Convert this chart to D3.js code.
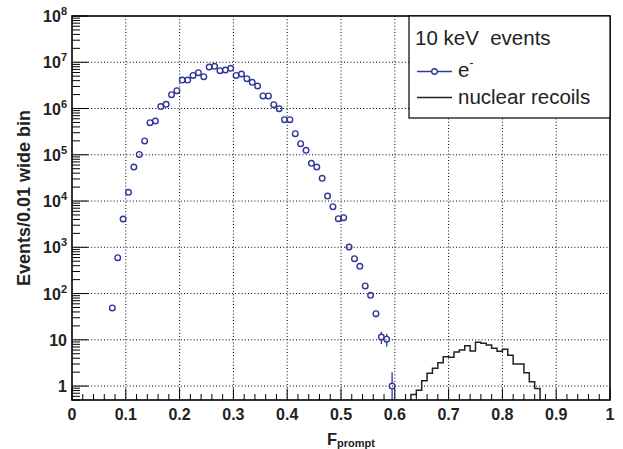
<!DOCTYPE html>
<html>
<head>
<meta charset="utf-8">
<script src="https://cdn.jsdelivr.net/npm/d3@7"></script>
<style>
  body { margin: 0; background: #fff; }
  svg text { font-family: "Liberation Sans", Arial, Helvetica, sans-serif; }
</style>
</head>
<body>
<div id="chart"></div>
<script>
// e- events: bin centres and counts per 0.01 bin
const eFprompt = [0.075, 0.085, 0.095, 0.105, 0.115, 0.125, 0.135, 0.145, 0.155, 0.165,
    0.175, 0.185, 0.195, 0.205, 0.215, 0.225, 0.235, 0.245, 0.255, 0.265,
    0.275, 0.285, 0.295, 0.305, 0.315, 0.325, 0.335, 0.345, 0.355, 0.365,
    0.375, 0.385, 0.395, 0.405, 0.415, 0.425, 0.435, 0.445, 0.455, 0.465,
    0.475, 0.485, 0.495, 0.505, 0.515, 0.525, 0.535, 0.545, 0.555, 0.565,
    0.575, 0.585, 0.595];
const eCounts = [49, 596, 4090, 15450, 54400, 1.02e5, 1.99e5, 4.94e5, 5.37e5, 1.1e6,
    1.23e6, 1.99e6, 2.43e6, 4.13e6, 4.13e6, 5.2e6, 5.96e6, 4.88e6, 7.9e6, 8.17e6,
    6.58e6, 6.8e6, 7.4e6, 5.2e6, 5.57e6, 4.41e6, 3.68e6, 3.07e6, 1.87e6, 1.87e6,
    1.21e6, 9.93e5, 5.74e5, 5.74e5, 2.86e5, 1.74e5, 1.25e5, 6.54e4, 5.44e4, 3.1e4,
    1.28e4, 7550, 4150, 4365, 1014, 567, 388, 146, 91.6, 36.7,
    11.5, 10.3, 1];

// nuclear recoils: bin low edges and contents
const nrBinLow = [0.63, 0.64, 0.65, 0.66, 0.67, 0.68, 0.69, 0.70, 0.71, 0.72,
    0.73, 0.74, 0.75, 0.76, 0.77, 0.78, 0.79, 0.80, 0.81, 0.82,
    0.83, 0.84, 0.85, 0.86];
const nrCounts = [0.66, 0.81, 1.31, 1.89, 2.42, 3.2, 4.3, 4.2, 5.45, 6.0,
    7.46, 5.73, 8.83, 8.4, 7.72, 6.55, 5.64, 6.23, 4.62, 3.0,
    3.0, 1.95, 1.24, 0.89];
const binWidth = 0.01;

const xTicks = [0, 0.1, 0.2, 0.3, 0.4, 0.5, 0.6, 0.7, 0.8, 0.9, 1];
const xTickLabels = ["0", "0.1", "0.2", "0.3", "0.4", "0.5", "0.6", "0.7", "0.8", "0.9", "1"];
const yTicks = [1, 10, 1e2, 1e3, 1e4, 1e5, 1e6, 1e7, 1e8];
const yTickLabels = [["1", ""], ["10", ""], ["10", "2"], ["10", "3"], ["10", "4"],
    ["10", "5"], ["10", "6"], ["10", "7"], ["10", "8"]];

const W = 623, H = 449;
const margin = {left: 72, top: 16, right: 13, bottom: 49};
const blue = "#2f3799";

const x = d3.scaleLinear().domain([0, 1]).range([margin.left, W - margin.right]);
const y = d3.scaleLog().domain([0.5, 1e8]).range([H - margin.bottom, margin.top]);
const [x0, x1] = x.range();
const [yb, yt] = y.range();

const svg = d3.select("#chart").append("svg")
    .attr("width", W).attr("height", H);

svg.append("clipPath").attr("id", "plotclip")
    .append("rect")
    .attr("x", x0).attr("y", yt).attr("width", x1 - x0).attr("height", yb - yt);

// grid
const grid = svg.append("g").attr("stroke", "#000").attr("stroke-width", 1)
    .attr("stroke-dasharray", "1,2.2");
grid.selectAll("line.vx")
    .data(xTicks.slice(1, -1))
    .enter().append("line")
    .attr("x1", d => x(d)).attr("x2", d => x(d))
    .attr("y1", yt).attr("y2", yb);
grid.selectAll("line.hy")
    .data(yTicks.slice(0, -1))
    .enter().append("line")
    .attr("x1", x0).attr("x2", x1)
    .attr("y1", d => y(d)).attr("y2", d => y(d));

const plot = svg.append("g").attr("clip-path", "url(#plotclip)");

// nuclear recoil histogram outline
const steps = [[nrBinLow[0], 0.01]];
nrBinLow.forEach((lo, i) => {
    steps.push([lo, nrCounts[i]]);
    steps.push([lo + binWidth, nrCounts[i]]);
});
steps.push([nrBinLow[nrBinLow.length - 1] + binWidth, 0.01]);

plot.append("path")
    .attr("d", d3.line()
        .x(d => x(d[0]))
        .y(d => Math.min(yb + 2, y(d[1])))(steps))
    .attr("fill", "none")
    .attr("stroke", "#222")
    .attr("stroke-width", 1.5);

// e- points with sqrt(N) error bars
const r = 2.8;
const eData = eFprompt.map((f, i) => ({f: f, n: eCounts[i]}));

const errs = plot.append("g").attr("stroke", blue).attr("stroke-width", 1.3);
eData.forEach(d => {
    const err = Math.sqrt(d.n);
    const cy = y(d.n);
    const top = y(d.n + err);
    const bot = d.n - err > 0 ? y(d.n - err) : yb + 5;
    if (cy - top > r) {
        errs.append("line").attr("x1", x(d.f)).attr("x2", x(d.f))
            .attr("y1", top).attr("y2", cy - r);
    }
    if (bot - cy > r) {
        errs.append("line").attr("x1", x(d.f)).attr("x2", x(d.f))
            .attr("y1", cy + r).attr("y2", bot);
    }
});

plot.selectAll("circle.e")
    .data(eData)
    .enter().append("circle")
    .attr("cx", d => x(d.f))
    .attr("cy", d => y(d.n))
    .attr("r", r)
    .attr("fill", "none")
    .attr("stroke", blue)
    .attr("stroke-width", 1.4);

// axes ticks
const axes = svg.append("g").attr("stroke", "#000").attr("stroke-width", 1);
const xMinor = d3.range(0, 51).map(i => i * 0.02);
axes.selectAll("line.xt")
    .data(xMinor)
    .enter().append("line")
    .attr("x1", d => x(d)).attr("x2", d => x(d))
    .attr("y1", yb)
    .attr("y2", (d, i) => i % 5 === 0 ? yb - 11.5 : yb - 6);

const yMinor = [];
[0.1, 1, 10, 1e2, 1e3, 1e4, 1e5, 1e6, 1e7].forEach(dec => {
    for (let k = 1; k <= 9; k++) {
        const v = dec * k;
        if (v >= 0.5 && v <= 1e8) yMinor.push({v: v, major: k === 1 && dec >= 1});
    }
});
yMinor.push({v: 1e8, major: true});
axes.selectAll("line.yt")
    .data(yMinor)
    .enter().append("line")
    .attr("x1", x0)
    .attr("x2", d => d.major ? x0 + 16 : x0 + 8)
    .attr("y1", d => y(d.v)).attr("y2", d => y(d.v));

// frame
svg.append("rect")
    .attr("x", x0).attr("y", yt)
    .attr("width", x1 - x0).attr("height", yb - yt)
    .attr("fill", "none")
    .attr("stroke", "#000")
    .attr("stroke-width", 1.6);

// tick labels
svg.append("g").selectAll("text")
    .data(xTicks)
    .enter().append("text")
    .attr("x", d => x(d))
    .attr("y", yb + 20)
    .attr("text-anchor", "middle")
    .attr("font-size", 16)
    .attr("font-weight", "bold")
    .attr("fill", "#222")
    .text((d, i) => xTickLabels[i]);

const yl = svg.append("g").selectAll("text")
    .data(yTicks)
    .enter().append("text")
    .attr("x", x0 - 5)
    .attr("y", d => y(d) + 6)
    .attr("text-anchor", "end")
    .attr("font-weight", "bold")
    .attr("fill", "#222");
yl.append("tspan")
    .attr("font-size", 16)
    .text((d, i) => yTickLabels[i][0]);
yl.append("tspan")
    .attr("font-size", 11)
    .attr("dy", -7)
    .text((d, i) => yTickLabels[i][1]);

// axis titles
svg.append("text")
    .attr("transform", "translate(30," + 198 + ") rotate(-90)")
    .attr("text-anchor", "middle")
    .attr("font-size", 18)
    .attr("font-weight", "bold")
    .attr("fill", "#222")
    .text("Events/0.01 wide bin");

const xt = svg.append("text")
    .attr("x", 327).attr("y", 445)
    .attr("font-weight", "bold")
    .attr("fill", "#222");
xt.append("tspan").attr("font-size", 16.5).text("F");
xt.append("tspan").attr("font-size", 11).attr("dy", 2).text("prompt");

// legend
const lg = svg.append("g");
lg.append("rect")
    .attr("x", 409).attr("y", yt)
    .attr("width", x1 - 409).attr("height", 102)
    .attr("fill", "#fff")
    .attr("stroke", "#000")
    .attr("stroke-width", 1.2);
lg.append("text")
    .attr("x", 415).attr("y", 45)
    .attr("font-size", 20.5)
    .attr("fill", "#222")
    .attr("xml:space", "preserve")
    .text("10 keV  events");
lg.append("line")
    .attr("x1", 417).attr("x2", 452).attr("y1", 71.5).attr("y2", 71.5)
    .attr("stroke", blue).attr("stroke-width", 1.3);
lg.append("circle")
    .attr("cx", 434.5).attr("cy", 71.5).attr("r", r)
    .attr("fill", "#fff").attr("stroke", blue).attr("stroke-width", 1.4);
const el = lg.append("text")
    .attr("x", 458).attr("y", 77)
    .attr("font-size", 20.5)
    .attr("fill", "#222");
el.append("tspan").text("e");
el.append("tspan").attr("font-size", 12).attr("dy", -10).text("-");
lg.append("line")
    .attr("x1", 417).attr("x2", 452).attr("y1", 97.5).attr("y2", 97.5)
    .attr("stroke", "#222").attr("stroke-width", 1.5);
lg.append("text")
    .attr("x", 458).attr("y", 104)
    .attr("font-size", 20.5)
    .attr("fill", "#222")
    .text("nuclear recoils");
</script>
</body>
</html>
